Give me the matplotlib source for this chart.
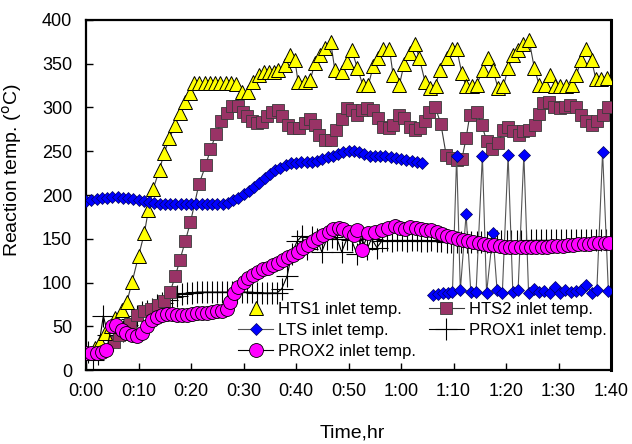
import matplotlib
matplotlib.use("Agg")
import matplotlib.pyplot as plt
from matplotlib.lines import Line2D

plt.rcParams['font.family'] = ['Liberation Sans', 'DejaVu Sans']

# (time in minutes, temperature in deg C)
hts1 = [(1.8, 25), (2.7, 32), (3.7, 42), (4.7, 50), (5.6, 59), (6.9, 69), (7.8, 78),
        (8.8, 101), (10.0, 130), (11.1, 156), (11.9, 183), (12.8, 207), (14.0, 229),
        (14.9, 248), (15.9, 265), (17.0, 280), (17.9, 294), (18.9, 306), (19.8, 317),
        (20.6, 328), (21.6, 328), (22.6, 328), (23.6, 328), (24.6, 328), (25.6, 328),
        (26.6, 328), (27.6, 328), (28.6, 327), (29.7, 318), (30.9, 318), (31.8, 329),
        (33.0, 337), (33.9, 340), (34.9, 340), (35.8, 341), (36.6, 343), (37.9, 349),
        (38.9, 360), (39.8, 354), (40.4, 329), (41.7, 329), (42.7, 331), (43.6, 351),
        (44.6, 360), (45.5, 368), (46.6, 375), (47.4, 343), (48.7, 341), (49.7, 352),
        (50.6, 366), (51.7, 345), (52.7, 326), (53.8, 326), (54.7, 347), (55.7, 356),
        (56.6, 367), (57.8, 367), (58.5, 337), (59.7, 326), (60.6, 350), (61.7, 362),
        (62.7, 373), (63.5, 356), (64.6, 329), (65.5, 322), (66.6, 325), (67.4, 343),
        (68.7, 356), (69.7, 367), (70.6, 367), (71.6, 339), (72.4, 324), (73.5, 324),
        (74.4, 326), (75.6, 343), (76.5, 356), (77.5, 343), (78.5, 322), (79.5, 324),
        (80.4, 345), (81.4, 360), (82.3, 366), (83.3, 373), (84.4, 377), (85.4, 345),
        (86.3, 326), (87.5, 326), (88.4, 337), (89.3, 324), (90.3, 324), (91.4, 324),
        (92.5, 326), (93.4, 337), (94.3, 354), (95.3, 367), (96.3, 354), (97.1, 333),
        (98.1, 333), (99.3, 334)]

hts2 = [(5.3, 32), (6.2, 40), (7.3, 47), (8.4, 53), (9.7, 63), (11.0, 67), (12.3, 70),
        (13.8, 74), (14.9, 79), (16.0, 89), (17.0, 107), (17.9, 126), (18.9, 147),
        (19.9, 169), (21.5, 212), (22.8, 234), (23.7, 252), (24.8, 270), (25.8, 284),
        (26.8, 294), (27.9, 302), (28.9, 302), (29.9, 295), (30.6, 290), (31.6, 284),
        (32.5, 282), (33.5, 283), (34.4, 290), (35.5, 295), (36.6, 297), (37.4, 290),
        (38.5, 280), (39.5, 276), (40.6, 276), (41.7, 282), (42.7, 287), (43.6, 280),
        (44.4, 269), (45.5, 263), (46.6, 263), (47.6, 274), (48.7, 287), (49.7, 299),
        (50.6, 297), (51.6, 291), (52.5, 297), (53.5, 299), (54.7, 297), (55.7, 288),
        (56.6, 278), (57.8, 276), (58.5, 280), (59.7, 291), (60.6, 288), (61.7, 278),
        (62.7, 274), (63.6, 276), (64.6, 284), (65.4, 295), (66.5, 301), (67.6, 281),
        (68.6, 246), (69.7, 242), (70.6, 240), (71.6, 241), (72.4, 265), (73.1, 291),
        (74.4, 295), (75.4, 280), (76.3, 262), (77.3, 253), (78.5, 259), (79.5, 274),
        (80.4, 278), (81.4, 273), (82.4, 269), (83.3, 273), (84.4, 274), (85.5, 280),
        (86.3, 293), (87.0, 305), (88.2, 306), (89.1, 301), (90.2, 299), (91.2, 301),
        (92.2, 303), (93.3, 301), (94.2, 291), (95.2, 284), (96.3, 280), (97.3, 285),
        (98.4, 291), (99.4, 300)]

# LTS before the switch-over
lts_a = [(0, 193), (1, 194), (2, 195), (3, 196), (4, 197), (5, 198), (6, 198), (7, 197),
         (8, 196), (9, 195), (10, 194), (11, 193), (12, 192), (13, 191), (14, 190),
         (15, 190), (16, 190), (17, 190), (18, 190), (19, 190), (20, 190), (21, 190),
         (22, 190), (23, 190), (24, 190), (25, 190), (26, 190), (27, 191), (28, 194),
         (29, 197), (30, 201), (31, 205), (32, 209), (33, 214), (34, 219), (35, 224),
         (36, 228), (37, 231), (38, 234), (39, 236), (40, 237), (41, 238), (42, 238),
         (43, 238), (44, 239), (45, 241), (46, 243), (47, 245), (48, 247), (49, 249),
         (50, 250), (51, 250), (52, 249), (53, 247), (54, 245), (55, 244), (56, 244),
         (57, 244), (58, 243), (59, 242), (60, 241), (61, 240), (62, 239), (63, 238),
         (64, 237)]

# LTS after the switch-over, with intermittent spikes
lts_b = [(66.1, 86), (67.0, 87), (68.0, 88), (69.0, 88), (69.8, 89), (70.6, 245),
         (71.3, 91), (72.4, 178), (73.3, 89), (74.3, 89), (75.5, 245), (76.3, 88),
         (77.5, 156), (78.3, 91), (79.3, 88), (80.4, 246), (81.3, 89), (82.3, 91),
         (83.4, 246), (84.3, 88), (85.3, 93), (86.3, 89), (87.3, 90), (88.3, 88),
         (89.3, 95), (90.3, 88), (91.3, 91), (92.3, 89), (93.3, 90), (94.3, 92),
         (95.3, 97), (96.3, 88), (97.3, 91), (98.4, 249), (99.5, 90)]

prox1 = [(0.4, 21), (1.3, 12), (2.2, 18), (3.3, 62), (4.2, 40), (5.1, 34), (6.0, 38),
         (7.0, 45), (7.9, 52), (8.8, 58), (9.8, 62), (10.7, 66), (11.7, 68), (12.6, 70),
         (13.6, 74), (14.5, 77), (15.5, 80), (16.4, 83), (17.4, 85), (18.3, 87),
         (19.3, 88), (20.2, 88), (21.2, 89), (22.1, 89), (23.1, 89), (24.0, 89),
         (25.0, 89), (25.9, 89), (26.9, 89), (27.8, 89), (28.8, 89), (29.7, 89),
         (30.7, 89), (31.6, 89), (32.6, 88), (33.5, 88), (34.5, 88), (35.4, 88),
         (36.4, 88), (37.3, 93), (38.3, 107), (39.2, 133), (40.2, 147), (41.1, 153),
         (42.1, 138), (43.0, 152), (44.0, 150), (44.9, 135), (45.9, 150), (46.8, 152),
         (47.8, 150), (48.7, 135), (49.7, 150), (50.6, 148), (51.6, 133), (52.5, 150),
         (53.5, 138), (54.4, 150), (55.4, 140), (56.3, 147), (57.3, 148), (58.2, 147),
         (59.2, 148), (60.1, 148), (61.1, 147), (62.0, 148), (63.0, 148), (63.9, 147),
         (64.9, 147), (65.8, 148), (66.8, 147), (67.7, 147), (68.7, 146), (69.6, 146),
         (70.6, 146), (71.5, 146), (72.5, 146), (73.4, 146), (74.4, 146), (75.3, 146),
         (76.3, 146), (77.2, 146), (78.2, 147), (79.1, 147), (80.1, 147), (81.0, 147),
         (82.0, 147), (82.9, 147), (83.9, 147), (84.8, 148), (85.8, 148), (86.7, 148),
         (87.7, 148), (88.6, 148), (89.6, 148), (90.5, 148), (91.5, 148), (92.4, 148),
         (93.4, 148), (94.3, 148), (95.3, 148), (96.2, 148), (97.2, 148), (98.1, 148),
         (99.1, 148), (100.0, 148)]

prox2 = [(0.0, 20), (1.0, 20), (2.0, 20), (3.0, 21), (3.9, 23), (4.9, 50), (5.8, 51),
         (6.8, 46), (7.7, 42), (8.7, 40), (9.8, 39), (10.6, 42), (11.7, 50), (12.5, 57),
         (13.5, 61), (14.4, 63), (15.4, 64), (16.3, 64), (17.3, 63), (18.2, 63),
         (19.2, 63), (20.1, 64), (21.1, 65), (22.1, 65), (23.0, 65), (24.0, 66),
         (24.9, 67), (25.9, 68), (26.8, 70), (27.4, 78), (28.1, 88), (29.0, 95),
         (30.0, 101), (30.9, 105), (31.9, 109), (32.8, 112), (33.8, 115), (34.7, 117),
         (35.6, 120), (36.6, 122), (37.6, 126), (38.5, 129), (39.5, 132), (40.4, 135),
         (41.3, 139), (42.3, 143), (43.3, 147), (44.2, 151), (45.2, 154), (46.2, 158),
         (47.1, 161), (48.1, 162), (49.0, 161), (50.0, 158), (51.0, 154), (51.6, 160),
         (52.5, 137), (53.8, 156), (55.0, 158), (56.3, 160), (57.5, 162), (58.9, 164),
         (59.8, 162), (60.8, 161), (61.8, 163), (62.8, 162), (63.8, 161), (64.8, 160),
         (65.8, 160), (66.8, 158), (67.8, 155), (68.8, 153), (69.8, 152), (70.8, 150),
         (71.8, 148), (72.8, 147), (73.8, 146), (74.8, 145), (75.8, 144), (76.8, 143),
         (77.8, 143), (78.8, 142), (79.8, 141), (80.8, 141), (81.8, 141), (82.8, 141),
         (83.8, 141), (84.8, 141), (85.8, 141), (86.8, 141), (87.8, 141), (88.8, 142),
         (89.8, 142), (90.8, 142), (91.8, 143), (92.8, 143), (93.8, 144), (94.8, 144),
         (95.8, 144), (96.8, 145), (97.8, 145), (98.8, 145), (99.6, 145)]

time_ticks = [0, 10, 20, 30, 40, 50, 60, 70, 80, 90, 100]
time_labels = ["0:00", "0:10", "0:20", "0:30", "0:40", "0:50",
               "1:00", "1:10", "1:20", "1:30", "1:40"]
temp_ticks = [0, 50, 100, 150, 200, 250, 300, 350, 400]

fig = plt.figure(figsize=(6.32, 4.44), dpi=100)
ax = fig.add_axes([86 / 632, 74 / 444, 525 / 632, 350 / 444])


def xy(series):
    t, v = zip(*series)
    return list(t), list(v)


line_kw = dict(lw=0.8)

t, v = xy(prox1)
h_p1, = ax.plot(t, v, color='black', marker='+', ms=16, mew=0.8, zorder=2, **line_kw)

t, v = xy(hts2)
h_h2, = ax.plot(t, v, color='#3a3a3a', marker='s', ms=9, mfc='#993366',
                mec='#3a3a3a', mew=0.6, zorder=3, **line_kw)

t, v = xy(hts1)
ax.plot(t, v, color='#3a3a3a', marker='^', ms=10, mfc='#FFFF00',
        mec='black', mew=0.7, zorder=4, **line_kw)

t, v = xy(lts_a)
h_lts, = ax.plot(t, v, color='#555555', marker='D', ms=6.5, mfc='#0000FF',
                 mec='#000060', mew=0.5, zorder=5, **line_kw)
t, v = xy(lts_b)
ax.plot(t, v, color='#555555', marker='D', ms=6.5, mfc='#0000FF',
        mec='#000060', mew=0.5, zorder=5, **line_kw)

t, v = xy(prox2)
h_p2, = ax.plot(t, v, color='black', marker='o', ms=10, mfc='#FF00FF',
                mec='black', mew=0.6, zorder=6, **line_kw)

h_h1 = Line2D([], [], ls='none', marker='^', ms=10, mfc='#FFFF00', mec='black', mew=0.7)

ax.legend([h_h1, h_lts, h_p2, h_h2, h_p1],
          ["HTS1 inlet temp.", "LTS inlet temp.", "PROX2 inlet temp.",
           "HTS2 inlet temp.", "PROX1 inlet temp."],
          ncol=2, frameon=False, loc='upper left', bbox_to_anchor=(0.29, 0.195),
          borderpad=0, borderaxespad=0, fontsize=12, handlelength=2.1,
          handletextpad=0.3, columnspacing=0.75, labelspacing=0.37, numpoints=1)

ax.set_xlim(0, 100)
ax.set_ylim(0, 400)
ax.set_xticks(time_ticks)
ax.set_xticklabels(time_labels)
ax.set_yticks(temp_ticks)
ax.tick_params(axis='both', direction='in', length=5, width=1, labelsize=13,
               top=False, right=False)
ax.tick_params(axis='x', pad=9)
ax.tick_params(axis='y', pad=10)

for side in ['left', 'bottom', 'top']:
    ax.spines[side].set_linewidth(1.6)
ax.spines['right'].set_linewidth(2.2)

ax.set_ylabel("Reaction temp. ($^{\\mathrm{o}}$C)", fontsize=14)
ax.yaxis.set_label_coords(-0.118, 0.57)
ax.set_xlabel("Time,hr", fontsize=14)
ax.xaxis.set_label_coords(0.507, -0.155)

fig.savefig("out.png", dpi=100)
